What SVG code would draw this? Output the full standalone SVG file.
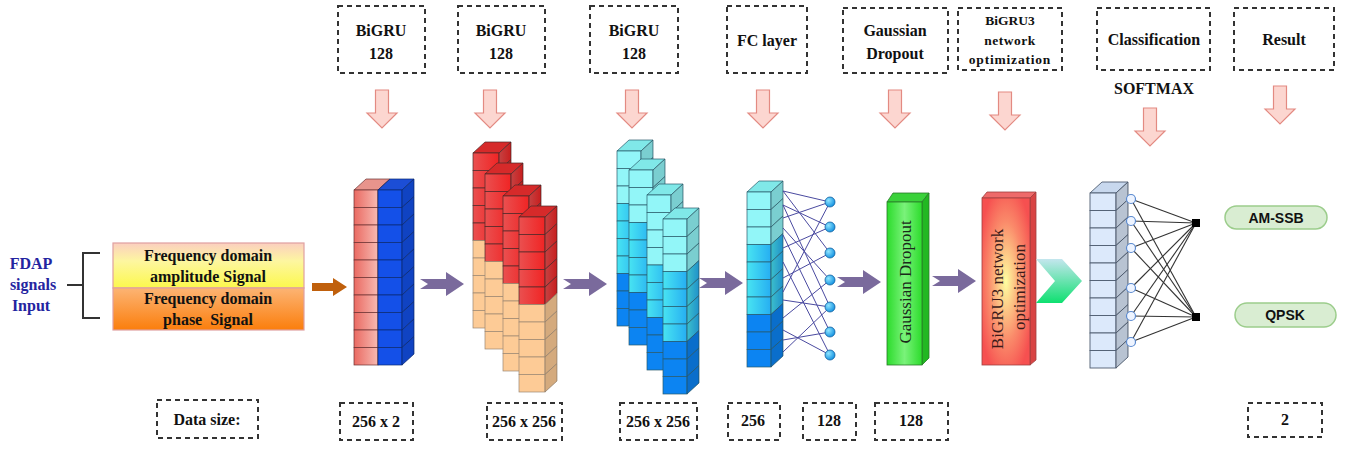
<svg xmlns="http://www.w3.org/2000/svg" width="1346" height="450" viewBox="0 0 1346 450">
<defs>
<style>
.dash{fill:none;stroke:#333;stroke-width:2;stroke-dasharray:5 4}
.t{font-family:"Liberation Serif",serif;font-weight:bold;font-size:16px;fill:#111;text-anchor:middle}
.ts{font-family:"Liberation Serif",serif;font-weight:bold;font-size:13.5px;fill:#111;text-anchor:middle}
.sh{fill:#000;fill-opacity:.16;stroke:none}
.pa{fill:#7a6a9c}
.da{fill:#fcd6d0;stroke:#e38a82;stroke-width:1.2}
.fl{stroke:#4a4aa0;stroke-width:1;fill:none}
.cl{stroke:#333;stroke-width:1.1;fill:none}
.pill{fill:#d9edd2;stroke:#9ccd8c;stroke-width:1.5}
.pt{font-family:"Liberation Sans",sans-serif;font-weight:bold;font-size:14px;fill:#111;text-anchor:middle}
</style>
<linearGradient id="gPink" x1="0" x2="1" y1="0" y2="0"><stop offset="0" stop-color="#ea6a62"/><stop offset="1" stop-color="#f7bab2"/></linearGradient>
<linearGradient id="gRed" x1="0" x2="1" y1="0" y2="0"><stop offset="0" stop-color="#ea5050"/><stop offset="1" stop-color="#f02424"/></linearGradient>
<linearGradient id="gMid" x1="0" x2="1" y1="0" y2="0"><stop offset="0" stop-color="#48e4f2"/><stop offset="1" stop-color="#26aef2"/></linearGradient>
<linearGradient id="gTop" x1="0" x2="0" y1="0" y2="1"><stop offset="0" stop-color="#fbcfc0"/><stop offset="0.4" stop-color="#fdf6a0"/><stop offset="1" stop-color="#fcf84c"/></linearGradient>
<linearGradient id="gBot" x1="0" x2="0" y1="0" y2="1"><stop offset="0" stop-color="#fcb474"/><stop offset="1" stop-color="#fb7e0c"/></linearGradient>
<linearGradient id="gGreen" x1="0" x2="1" y1="0" y2="0"><stop offset="0" stop-color="#2cdc2c"/><stop offset="0.5" stop-color="#7af27a"/><stop offset="1" stop-color="#2cdc2c"/></linearGradient>
<radialGradient id="gBg3" cx="0.5" cy="0.5" r="0.6"><stop offset="0" stop-color="#ffffa0"/><stop offset="0.6" stop-color="#fa8a6a"/><stop offset="1" stop-color="#f65050"/></radialGradient>
<linearGradient id="gChev" x1="0" x2="0" y1="0" y2="1"><stop offset="0" stop-color="#c4e6ee"/><stop offset="1" stop-color="#0ee070"/></linearGradient>
<radialGradient id="gNode" cx="0.35" cy="0.35" r="0.7"><stop offset="0" stop-color="#8fe4ff"/><stop offset="1" stop-color="#1090e0"/></radialGradient>

<g id="c24"><rect width="24" height="17.5"/><polygon points="24,0 36,-11 36,6.5 24,17.5"/><polygon class="sh" points="24,0 36,-11 36,6.5 24,17.5"/></g>
<polygon id="k24" points="0,0 12,-11 36,-11 24,0"/>
<g id="c26"><rect width="26" height="17.5"/><polygon points="26,0 38,-11 38,6.5 26,17.5"/><polygon class="sh" points="26,0 38,-11 38,6.5 26,17.5"/></g>
<polygon id="k26" points="0,0 12,-11 38,-11 26,0"/>
<polygon id="pa" points="0,-5 26,-5 26,-12 44,0 26,12 26,5 0,5 8,0"/>
<polygon id="da" points="-6.5,0 6.5,0 6.5,23 15,23 0,38 -15,23 -6.5,23"/>

<g id="colPink" stroke="#6a3030" stroke-width="0.7">
<use href="#k24" fill="#e8948c"/>
<use href="#c24" y="0" fill="url(#gPink)"/><use href="#c24" y="17.5" fill="url(#gPink)"/><use href="#c24" y="35" fill="url(#gPink)"/><use href="#c24" y="52.5" fill="url(#gPink)"/><use href="#c24" y="70" fill="url(#gPink)"/>
<use href="#c24" y="87.5" fill="url(#gPink)"/><use href="#c24" y="105" fill="url(#gPink)"/><use href="#c24" y="122.5" fill="url(#gPink)"/><use href="#c24" y="140" fill="url(#gPink)"/><use href="#c24" y="157.5" fill="url(#gPink)"/>
</g>
<g id="colBlue" stroke="#0a2a70" stroke-width="0.7">
<use href="#k24" fill="#1c4ed6"/>
<use href="#c24" y="0" fill="#1450e8"/><use href="#c24" y="17.5" fill="#1450e8"/><use href="#c24" y="35" fill="#1450e8"/><use href="#c24" y="52.5" fill="#1450e8"/><use href="#c24" y="70" fill="#1450e8"/>
<use href="#c24" y="87.5" fill="#1450e8"/><use href="#c24" y="105" fill="#1450e8"/><use href="#c24" y="122.5" fill="#1450e8"/><use href="#c24" y="140" fill="#1450e8"/><use href="#c24" y="157.5" fill="#1450e8"/>
</g>
<g id="colRed" stroke="#4a2a2a" stroke-width="0.7">
<use href="#k26" fill="#d62a2a"/>
<use href="#c26" y="0" fill="url(#gRed)"/><use href="#c26" y="17.5" fill="url(#gRed)"/><use href="#c26" y="35" fill="url(#gRed)"/><use href="#c26" y="52.5" fill="url(#gRed)"/><use href="#c26" y="70" fill="url(#gRed)"/>
<use href="#c26" y="87.5" fill="#fdcb96" stroke="#9a8672"/><use href="#c26" y="105" fill="#fdcb96" stroke="#9a8672"/><use href="#c26" y="122.5" fill="#fdcb96" stroke="#9a8672"/><use href="#c26" y="140" fill="#fdcb96" stroke="#9a8672"/><use href="#c26" y="157.5" fill="#fdcb96" stroke="#9a8672"/>
</g>
<g id="colCyanA" stroke="#2a5a6a" stroke-width="0.7">
<use href="#k24" fill="#80e8e8"/>
<use href="#c24" y="0" fill="#92f6f8"/><use href="#c24" y="17.5" fill="#92f6f8"/><use href="#c24" y="35" fill="#92f6f8"/>
<use href="#c24" y="52.5" fill="url(#gMid)"/><use href="#c24" y="70" fill="url(#gMid)"/><use href="#c24" y="87.5" fill="url(#gMid)"/><use href="#c24" y="105" fill="url(#gMid)"/>
<use href="#c24" y="122.5" fill="#0c84f2"/><use href="#c24" y="140" fill="#0c84f2"/><use href="#c24" y="157.5" fill="#0c84f2"/>
</g>
<g id="colCyanB" stroke="#2a5a6a" stroke-width="0.7">
<use href="#k24" fill="#80e8e8"/>
<use href="#c24" y="0" fill="#92f6f8"/><use href="#c24" y="17.5" fill="#92f6f8"/><use href="#c24" y="35" fill="#92f6f8"/><use href="#c24" y="52.5" fill="#92f6f8"/>
<use href="#c24" y="70" fill="url(#gMid)"/><use href="#c24" y="87.5" fill="url(#gMid)"/><use href="#c24" y="105" fill="url(#gMid)"/>
<use href="#c24" y="122.5" fill="#0c84f2"/><use href="#c24" y="140" fill="#0c84f2"/><use href="#c24" y="157.5" fill="#0c84f2"/>
</g>
<g id="colClass" stroke="#4e5c70" stroke-width="0.9">
<use href="#k26" fill="#c8d8ee"/>
<use href="#c26" y="0" fill="#dce9fb"/><use href="#c26" y="17.5" fill="#dce9fb"/><use href="#c26" y="35" fill="#dce9fb"/><use href="#c26" y="52.5" fill="#dce9fb"/><use href="#c26" y="70" fill="#dce9fb"/>
<use href="#c26" y="87.5" fill="#dce9fb"/><use href="#c26" y="105" fill="#dce9fb"/><use href="#c26" y="122.5" fill="#dce9fb"/><use href="#c26" y="140" fill="#dce9fb"/><use href="#c26" y="157.5" fill="#dce9fb"/>
</g>
</defs>

<rect width="1346" height="450" fill="#fff"/>

<!-- top label boxes -->
<g id="lbl-bigru1"><rect class="dash" x="338" y="6" width="87" height="67"/><text class="t" x="381" y="36">BiGRU</text><text class="t" x="381" y="59">128</text></g>
<g id="lbl-bigru2"><rect class="dash" x="458" y="6" width="87" height="67"/><text class="t" x="501" y="36">BiGRU</text><text class="t" x="501" y="59">128</text></g>
<g id="lbl-bigru3"><rect class="dash" x="590" y="6" width="88" height="67"/><text class="t" x="634" y="36">BiGRU</text><text class="t" x="634" y="59">128</text></g>
<g id="lbl-fc"><rect class="dash" x="727" y="6" width="80" height="67"/><text class="t" x="767" y="46" font-size="15">FC layer</text></g>
<g id="lbl-gd"><rect class="dash" x="843" y="8" width="105" height="65"/><text class="t" x="895" y="36">Gaussian</text><text class="t" x="895" y="59">Dropout</text></g>
<g id="lbl-bigru3net"><rect class="dash" x="958" y="8" width="104" height="62"/><text class="ts" x="1010" y="25">BiGRU3</text><text class="ts" x="1010" y="45" letter-spacing="0.5">network</text><text class="ts" x="1010" y="64" letter-spacing="0.8">optimization</text></g>
<g id="lbl-class"><rect class="dash" x="1097" y="8" width="113" height="62"/><text class="t" x="1154" y="45">Classification</text></g>
<text class="t" x="1154" y="94" font-size="16.5">SOFTMAX</text>
<g id="lbl-result"><rect class="dash" x="1234" y="8" width="100" height="62"/><text class="t" x="1284" y="45">Result</text></g>

<!-- bottom size labels -->
<g id="size-label"><rect class="dash" x="157" y="400" width="101" height="38"/><text class="t" x="207" y="425" font-size="14">Data size:</text></g>
<g id="size1"><rect class="dash" x="340" y="403" width="73" height="37"/><text class="t" x="376" y="427" font-size="14">256 x 2</text></g>
<g id="size2"><rect class="dash" x="487" y="403" width="75" height="37"/><text class="t" x="524" y="427" font-size="14">256 x 256</text></g>
<g id="size3"><rect class="dash" x="620" y="403" width="77" height="37"/><text class="t" x="658" y="427" font-size="14">256 x 256</text></g>
<g id="size4"><rect class="dash" x="728" y="403" width="52" height="37"/><text class="t" x="753" y="426" font-size="14">256</text></g>
<g id="size5"><rect class="dash" x="803" y="403" width="53" height="37"/><text class="t" x="829" y="426" font-size="14">128</text></g>
<g id="size6"><rect class="dash" x="875" y="403" width="73" height="37"/><text class="t" x="911" y="426" font-size="14">128</text></g>
<g id="size7"><rect class="dash" x="1248" y="403" width="74" height="34"/><text class="t" x="1285" y="425" font-size="14">2</text></g>

<!-- input -->
<g id="input-label" font-family="Liberation Serif, serif" font-weight="bold" font-size="16" fill="#2424a0" text-anchor="middle">
<text x="31" y="269">FDAP</text><text x="33" y="290">signals</text><text x="31" y="311">Input</text>
<path d="M67,285 H83 M100,253 H83 V318 H100" fill="none" stroke="#333" stroke-width="2"/>
</g>
<g id="input-box">
<rect x="113" y="243" width="191" height="45" fill="url(#gTop)" stroke="#e0a0a0" stroke-width="1.2"/>
<rect x="113" y="288" width="191" height="42" fill="url(#gBot)" stroke="#e0a0a0" stroke-width="1.2"/>
<text class="t" x="208" y="261">Frequency domain</text>
<text class="t" x="208" y="282">amplitude Signal</text>
<text class="t" x="208" y="304">Frequency domain</text>
<text class="t" x="208" y="325" style="white-space:pre">phase  Signal</text>
</g>

<!-- blocks -->
<g id="block1"><use href="#colPink" x="354" y="190"/><use href="#colBlue" x="378" y="190"/></g>
<g id="block2"><use href="#colRed" x="473" y="153"/><use href="#colRed" x="485" y="174"/><use href="#colRed" x="503" y="196"/><use href="#colRed" x="519" y="217"/></g>
<g id="block3"><use href="#colCyanA" x="617" y="151"/><use href="#colCyanA" x="629" y="170"/><use href="#colCyanB" x="647" y="195"/><use href="#colCyanA" x="663" y="219"/></g>
<g id="block-fc"><use href="#colCyanA" x="747" y="192"/></g>

<g id="block-gd">
<polygon points="887,202 893,193 929,193 922,202" fill="#3ad23a" stroke="#2a7a2a" stroke-width="0.8"/>
<polygon points="922,202 929,193 929,358 922,365" fill="#22b822" stroke="#2a7a2a" stroke-width="0.8"/>
<rect x="887" y="202" width="35" height="163" fill="url(#gGreen)" stroke="#2a7a2a" stroke-width="0.8"/>
<text transform="translate(911,282) rotate(-90)" font-family="Liberation Serif, serif" font-size="17" fill="#1a2a1a" text-anchor="middle">Gaussian Dropout</text>
</g>
<g id="block-bigru3">
<polygon points="982,198 987,192 1036,192 1030,198" fill="#ee6a6a" stroke="#a04040" stroke-width="0.8"/>
<polygon points="1030,198 1036,192 1036,360 1030,365" fill="#d84444" stroke="#a04040" stroke-width="0.8"/>
<rect x="982" y="198" width="48" height="167" fill="url(#gBg3)" stroke="#a04040" stroke-width="0.8"/>
<text transform="translate(1003,289) rotate(-90)" font-family="Liberation Serif, serif" font-size="17" fill="#3a1a1a" text-anchor="middle">BiGRU3 network</text>
<text transform="translate(1025,287) rotate(-90)" font-family="Liberation Serif, serif" font-size="17" fill="#3a1a1a" text-anchor="middle">optimization</text>
</g>

<g id="block-class"><use href="#colClass" x="1090" y="193"/></g>

<!-- result pills -->
<g id="res-amssb"><rect class="pill" x="1225" y="206" width="102" height="23" rx="11.5"/><text class="pt" x="1276" y="223">AM-SSB</text></g>
<g id="res-qpsk"><rect class="pill" x="1235" y="303" width="101" height="24" rx="12"/><text class="pt" x="1285" y="320">QPSK</text></g>

<!-- connectors -->
<g id="connectors">
<use href="#da" class="da" x="382" y="90"/>
<use href="#da" class="da" x="490" y="90"/>
<use href="#da" class="da" x="632" y="90"/>
<use href="#da" class="da" x="763" y="90"/>
<use href="#da" class="da" x="895" y="90"/>
<use href="#da" class="da" x="1005" y="92"/>
<use href="#da" class="da" x="1150" y="108"/>
<use href="#da" class="da" x="1280" y="86"/>

<polygon points="312,283 333,283 333,278 347,287 333,296 333,291 312,291" fill="#c0600c"/>
<use href="#pa" class="pa" x="420" y="284"/>
<use href="#pa" class="pa" x="563" y="284"/>
<use href="#pa" class="pa" x="699" y="283"/>
<use href="#pa" class="pa" x="837" y="282"/>
<use href="#pa" class="pa" x="932" y="281"/>
<polygon points="1036,259 1062,259 1082,281 1062,303 1036,303 1055,281" fill="url(#gChev)"/>

<g id="fc-links">
<line class="fl" x1="783" y1="191" x2="830" y2="202"/>
<line class="fl" x1="783" y1="191" x2="830" y2="253"/>
<line class="fl" x1="783" y1="205" x2="830" y2="227"/>
<line class="fl" x1="783" y1="205" x2="830" y2="307"/>
<line class="fl" x1="783" y1="218" x2="830" y2="202"/>
<line class="fl" x1="783" y1="228" x2="830" y2="280"/>
<line class="fl" x1="783" y1="235" x2="830" y2="332"/>
<line class="fl" x1="783" y1="248" x2="830" y2="227"/>
<line class="fl" x1="783" y1="262" x2="830" y2="355"/>
<line class="fl" x1="783" y1="278" x2="830" y2="253"/>
<line class="fl" x1="783" y1="292" x2="830" y2="202"/>
<line class="fl" x1="783" y1="300" x2="830" y2="307"/>
<line class="fl" x1="783" y1="318" x2="830" y2="280"/>
<line class="fl" x1="783" y1="330" x2="830" y2="355"/>
<line class="fl" x1="783" y1="340" x2="830" y2="332"/>
<line class="fl" x1="783" y1="352" x2="830" y2="307"/>
</g>
<g id="class-links">
<line class="cl" x1="1131" y1="199" x2="1196" y2="223"/><line class="cl" x1="1131" y1="199" x2="1196" y2="317"/>
<line class="cl" x1="1131" y1="221" x2="1196" y2="223"/><line class="cl" x1="1131" y1="221" x2="1196" y2="317"/>
<line class="cl" x1="1131" y1="248" x2="1196" y2="223"/><line class="cl" x1="1131" y1="248" x2="1196" y2="317"/>
<line class="cl" x1="1131" y1="288" x2="1196" y2="223"/><line class="cl" x1="1131" y1="288" x2="1196" y2="317"/>
<line class="cl" x1="1131" y1="316" x2="1196" y2="223"/><line class="cl" x1="1131" y1="316" x2="1196" y2="317"/>
<line class="cl" x1="1131" y1="342" x2="1196" y2="223"/><line class="cl" x1="1131" y1="342" x2="1196" y2="317"/>
</g>
</g>

<g id="fc-nodes" fill="url(#gNode)" stroke="#1060a0" stroke-width="0.8">
<circle cx="830" cy="202" r="5"/><circle cx="830" cy="227" r="5"/><circle cx="830" cy="253" r="5"/><circle cx="830" cy="280" r="5"/><circle cx="830" cy="307" r="5"/><circle cx="830" cy="332" r="5"/><circle cx="830" cy="355" r="5"/>
</g>
<g id="class-nodes" fill="#eef4ff" stroke="#5a8ad0" stroke-width="1.2">
<circle cx="1131" cy="199" r="4.5"/><circle cx="1131" cy="221" r="4.5"/><circle cx="1131" cy="248" r="4.5"/><circle cx="1131" cy="288" r="4.5"/><circle cx="1131" cy="316" r="4.5"/><circle cx="1131" cy="342" r="4.5"/>
</g>
<g id="out-nodes" fill="#000">
<rect x="1192" y="219" width="8" height="8"/><rect x="1192" y="313" width="8" height="8"/>
</g>
</svg>
